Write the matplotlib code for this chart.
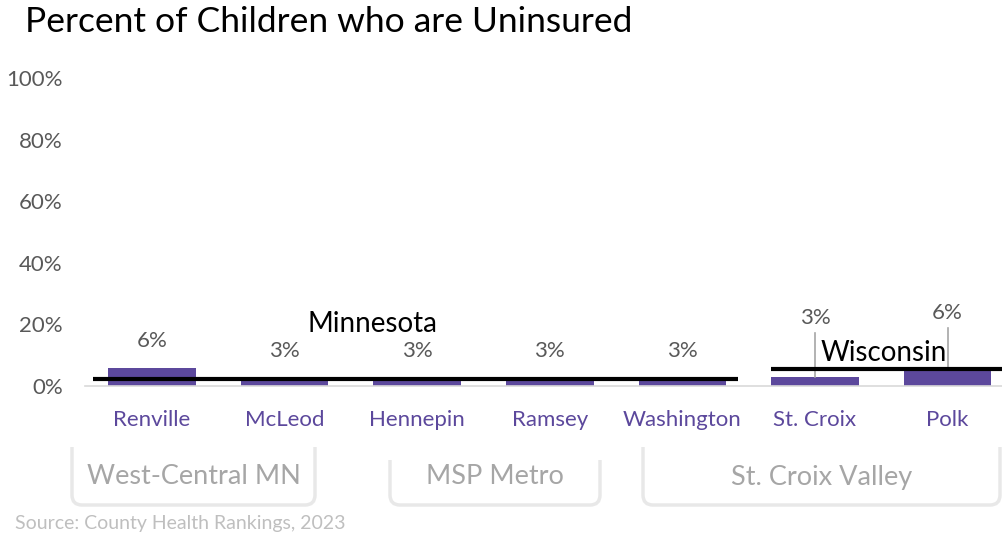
import numpy as np
import matplotlib
matplotlib.use('Agg')
import matplotlib.pyplot as plt
from matplotlib.path import Path
from matplotlib.patches import PathPatch

plt.rcParams['font.family'] = ['Lato', 'DejaVu Sans']

# data
counties = ['Renville', 'McLeod', 'Hennepin', 'Ramsey', 'Washington', 'St. Croix', 'Polk']
uninsured = [6, 3, 3, 3, 3, 3, 6]
state_names = ['Minnesota', 'Wisconsin']
state_values = [2.3, 5.5]
groups = ['West-Central MN', 'MSP Metro', 'St. Croix Valley']

W, H = 1002, 536
fig = plt.figure(figsize=(W / 100, H / 100), dpi=100)

def fx(px):
    return px / W

def fy(py):
    return 1 - py / H

ax = fig.add_axes([fx(85), fy(386), fx(1002) - fx(85), fy(78) - fy(386)])
x = np.arange(len(counties))
purple = '#5c489c'
ax.bar(x, uninsured, width=0.66, color=purple, zorder=2)
ax.set_xlim(-0.505, 6.41)
ax.set_ylim(0, 100)
ax.set_yticks(range(0, 101, 20))
ax.set_yticklabels([f'{v}%' for v in range(0, 101, 20)])
ax.tick_params(axis='y', length=0, labelsize=16, labelcolor='#595959', pad=16)
ax.set_xticks(x)
ax.set_xticklabels(counties)
ax.tick_params(axis='x', length=0, labelsize=16, labelcolor=purple, pad=17)
for s in ['top', 'right', 'left']:
    ax.spines[s].set_visible(False)
ax.spines['bottom'].set_color('#d9d9d9')
ax.spines['bottom'].set_linewidth(1.2)

# data labels (the two Wisconsin ones are pulled up with leader lines)
label_lift = [8.6, 8.4, 8.4, 8.4, 8.4, 19.1, 17.7]
for i, v in enumerate(uninsured):
    ly = v + label_lift[i]
    ax.text(i, ly, f'{v}%', ha='center', va='center', fontsize=16, color='#595959', zorder=4)
    if i >= 5:
        ax.plot([i, i], [v, ly - 5], color='#a6a6a6', lw=1.2, zorder=3)

# state benchmark lines
ax.plot([-0.445, 4.42], [state_values[0]] * 2, color='black', lw=3, zorder=3, solid_capstyle='butt')
ax.plot([4.67, 6.41], [state_values[1]] * 2, color='black', lw=3, zorder=3, solid_capstyle='butt', clip_on=False)
ax.text(1.66, 20, state_names[0], ha='center', va='center', fontsize=20, color='black', zorder=4)
ax.text(5.52, 10.8, state_names[1], ha='center', va='center', fontsize=20, color='black', zorder=4)

# group brackets under the axis
boxes = [(72, 315, 447), (390, 600, 460), (643, 1000, 447)]
bottom = 505
r = 10
for (l, rt, top), name in zip(boxes, groups):
    verts = [(fx(l), fy(top)), (fx(l), fy(bottom - r)), (fx(l), fy(bottom)), (fx(l + r), fy(bottom)),
             (fx(rt - r), fy(bottom)), (fx(rt), fy(bottom)), (fx(rt), fy(bottom - r)), (fx(rt), fy(top))]
    codes = [Path.MOVETO, Path.LINETO, Path.CURVE3, Path.CURVE3,
             Path.LINETO, Path.CURVE3, Path.CURVE3, Path.LINETO]
    fig.add_artist(PathPatch(Path(verts, codes), transform=fig.transFigure,
                             fill=False, edgecolor='#e8e8e8', lw=2.5))
    fig.text(fx((l + rt) / 2), fy(477), name, ha='center', va='center', fontsize=19.5, color='#a6a6a6')

fig.text(fx(25), fy(22), 'Percent of Children who are Uninsured', ha='left', va='center',
         fontsize=25.5, color='black')
fig.text(fx(15), fy(523), 'Source: County Health Rankings, 2023', ha='left', va='center',
         fontsize=14, color='#bfbfbf')

fig.savefig('out.png', dpi=100)
